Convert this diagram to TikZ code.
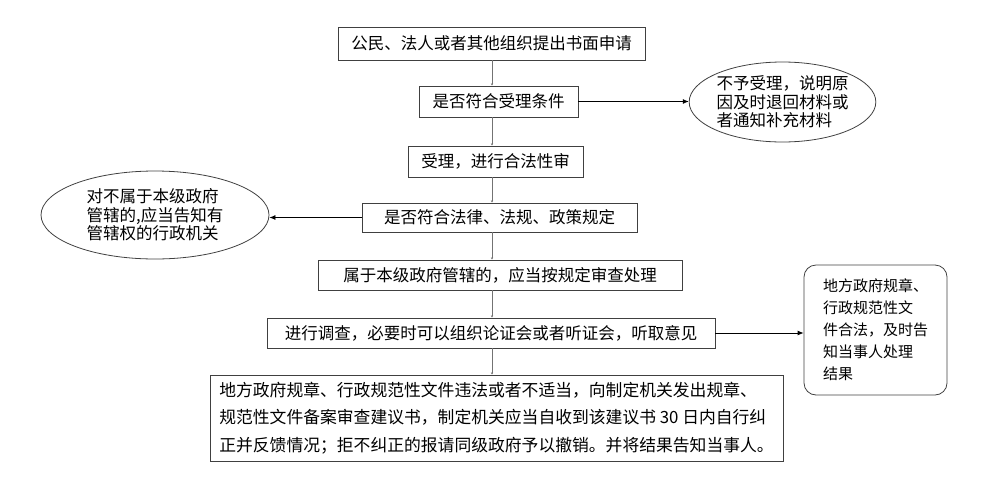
\documentclass[tikz,border=0pt]{standalone}
\usepackage{fontspec}
\setmainfont{Noto Sans CJK SC}
\usetikzlibrary{shapes.geometric,arrows.meta}
\begin{document}
\begin{tikzpicture}
    [x=1pt,y=-1pt,
     stepbox/.style={draw=black!75, line width=0.8pt, inner sep=0pt,
       minimum height=30pt, font=\fontsize{16.5}{19}\selectfont},
     oval/.style={draw=black!75, line width=0.8pt, ellipse, inner sep=0pt,
       align=left, font=\fontsize{16.5}{18.5}\selectfont},
     flow/.style={draw=black!55, line width=1pt, -{Latex[length=2pt,width=2.5pt]}},
     side/.style={draw=black, line width=0.8pt, -{Latex[length=6pt,width=5pt]}}]
    \useasboundingbox (0,0) rectangle (1000,482);
    \coordinate (spine) at (492,0);

    % main column
    \node[stepbox, minimum width=307pt, minimum height=33pt] (apply) at (491.5,43.5) {公民、法人或者其他组织提出书面申请};
    \node[stepbox, minimum width=159pt, minimum height=31pt] (check) at (498.5,101.5) {是否符合受理条件};
    \node[stepbox, minimum width=175pt, minimum height=31pt] (accept) at (495.5,161.5) {受理，进行合法性审};
    \node[stepbox, minimum width=275pt, minimum height=29pt] (legal) at (499.5,217.5) {是否符合法律、法规、政策规定};
    \node[stepbox, minimum width=364pt] (local) at (500,275) {属于本级政府管辖的，应当按规定审查处理};
    \node[stepbox, minimum width=448pt] (survey) at (491,333) {进行调查，必要时可以组织论证会或者听证会，听取意见};
    \node[stepbox, minimum width=573pt, minimum height=86pt, align=left,
      font=\fontsize{16.8}{27.5}\selectfont] (result) at (496.5,418)
      {地方政府规章、行政规范性文件违法或者不适当，向制定机关发出规章、\\
       规范性文件备案审查建议书，制定机关应当自收到该建议书 30 日内自行纠\\
       正并反馈情况；拒不纠正的报请同级政府予以撤销。并将结果告知当事人。};

    % side nodes
    \node[oval, minimum width=185pt, minimum height=80pt] (reject) at (782.5,102)
      {不予受理，说明原\\因及时退回材料或\\者通知补充材料};
    \node[oval, minimum width=228pt, minimum height=88pt] (refer) at (155,215)
      {对不属于本级政府\\管辖的,应当告知有\\管辖权的行政机关};
    \node[draw=black!75, line width=0.8pt, rounded corners=12pt, inner sep=0pt,
      minimum width=143pt, minimum height=130pt, align=left,
      font=\fontsize{15}{22}\selectfont] (notify) at (875.5,330)
      {地方政府规章、\\行政规范性文\\件合法，及时告\\知当事人处理\\结果};

    \foreach \a/\b in {apply/check, check/accept, accept/legal, legal/local, local/survey, survey/result}
      \draw[flow] (\a.south -| spine) -- (\b.north -| spine);

    \draw[side] (check.east) -- (check.east -| reject.west);
    \draw[side] (legal.west) -- (legal.west -| refer.east);
    \draw[side] (survey.east) -- (survey.east -| notify.west);
\end{tikzpicture}
\end{document}
